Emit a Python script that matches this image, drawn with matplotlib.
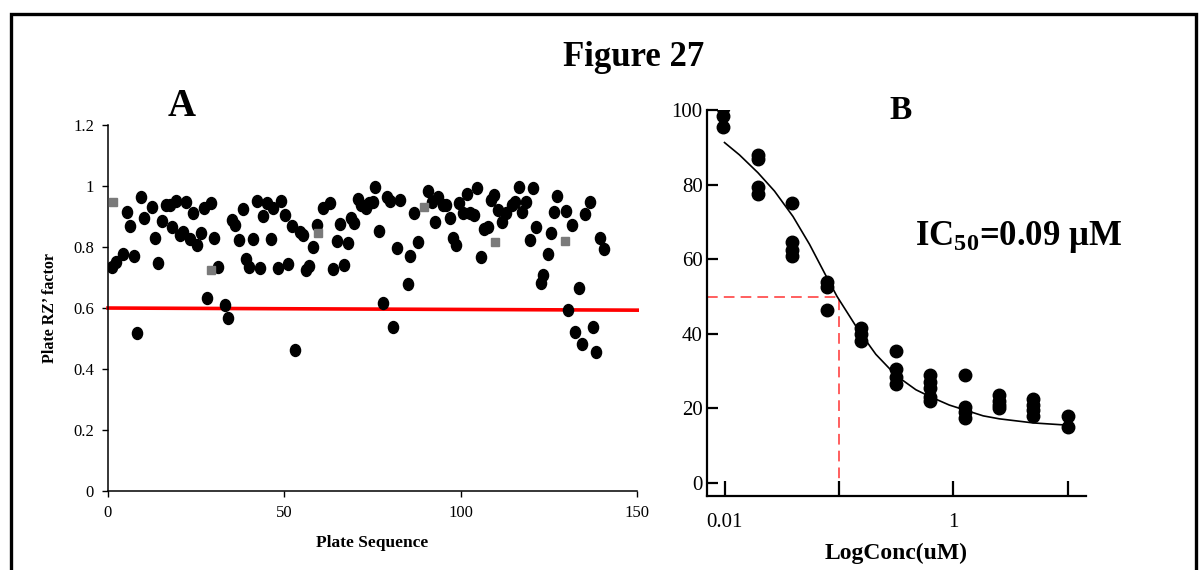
#!/usr/bin/env python3

import numpy as np
import matplotlib
matplotlib.use("Agg")
import matplotlib.pyplot as plt
from matplotlib.path import Path
from matplotlib.transforms import Affine2D
from matplotlib.patches import Rectangle

plt.rcParams['font.family'] = ['Liberation Serif', 'DejaVu Serif']
plt.rcParams['mathtext.default'] = 'regular'

# Panel A: plate RZ' factor per plate
seq = [1.2, 2.2, 4.3, 5.3, 6.2, 7.4, 8.1, 9.3, 10.2, 12.4, 13.2, 14.3, 15.4, 16.4, 17.6,
       18.2, 19.2, 20.4, 21.3, 22.0, 23.2, 24.2, 25.3, 26.3, 27.2, 28.2, 29.1, 30.0, 31.3,
       33.2, 34.1, 35.1, 36.0, 37.2, 38.2, 39.1, 40.1, 41.0, 42.2, 43.1, 44.0, 45.0, 46.1,
       46.9, 48.1, 49.0, 50.2, 51.1, 52.1, 53.0, 54.4, 55.2, 56.1, 57.1, 58.0, 59.1, 60.9,
       62.9, 63.9, 64.8, 65.8, 67.0, 68.0, 68.9, 69.8, 70.8, 71.7, 73.0, 73.9, 75.0, 75.8,
       76.9, 77.9, 79.0, 80.0, 80.9, 81.9, 82.9, 84.9, 85.7, 86.8, 87.8, 90.7, 91.9, 92.8,
       93.6, 94.9, 95.9, 96.8, 97.7, 98.7, 99.6, 100.6, 101.8, 102.7, 103.7, 104.6, 105.6,
       106.6, 107.8, 108.7, 109.3, 110.6, 111.7, 112.7, 114.5, 115.5, 116.6, 117.4, 118.5,
       119.5, 120.5, 121.4, 122.7, 123.3, 124.6, 125.5, 126.5, 127.4, 129.7, 130.4, 131.4,
       132.5, 133.5, 134.4, 135.3, 136.6, 137.5, 138.4, 139.4, 140.5]
rz = [0.735, 0.752, 0.777, 0.914, 0.869, 0.770, 0.519, 0.963, 0.894, 0.932, 0.828, 0.749,
      0.886, 0.938, 0.938, 0.867, 0.952, 0.839, 0.850, 0.947, 0.825, 0.910, 0.807, 0.847,
      0.927, 0.632, 0.943, 0.828, 0.733, 0.610, 0.566, 0.888, 0.872, 0.823, 0.924, 0.760,
      0.735, 0.825, 0.952, 0.732, 0.902, 0.943, 0.825, 0.927, 0.732, 0.952, 0.905, 0.744,
      0.869, 0.462, 0.850, 0.839, 0.725, 0.738, 0.801, 0.872, 0.927, 0.943, 0.727, 0.821,
      0.875, 0.741, 0.814, 0.894, 0.880, 0.956, 0.938, 0.927, 0.945, 0.949, 0.996, 0.854,
      0.617, 0.963, 0.952, 0.539, 0.798, 0.954, 0.679, 0.770, 0.912, 0.817, 0.985, 0.949,
      0.883, 0.965, 0.938, 0.938, 0.894, 0.828, 0.807, 0.943, 0.910, 0.974, 0.910, 0.905,
      0.993, 0.766, 0.858, 0.867, 0.954, 0.970, 0.921, 0.883, 0.910, 0.938, 0.949, 0.996,
      0.916, 0.949, 0.823, 0.993, 0.865, 0.681, 0.708, 0.777, 0.845, 0.916, 0.967, 0.919,
      0.593, 0.872, 0.522, 0.665, 0.482, 0.908, 0.949, 0.539, 0.457, 0.828, 0.793]
ctrl_seq = [1.5, 29.3, 59.6, 89.5, 109.6, 129.5]
ctrl_rz = [0.949, 0.725, 0.845, 0.932, 0.817, 0.821]
cutoff_x = [0, 150]
cutoff_y = [0.600, 0.593]

# Panel B: dose response
conc = [0.00977, 0.0195, 0.039, 0.078, 0.156, 0.3125, 0.625, 1.25, 2.5, 5.0, 10.0]
resp = [[100.5, 98.5, 95.5],
        [88, 87, 79.5, 77.5],
        [75, 64.5, 62.5, 61],
        [54, 52.5, 46.5],
        [41.5, 40, 38],
        [35.5, 30.5, 28.5, 26.5],
        [29, 27, 25.5, 23, 22],
        [29, 20.5, 19, 17.5],
        [23.5, 22, 21, 20],
        [22.5, 21, 19.5, 18],
        [18, 15]]
fit_x = [0.01, 0.0135, 0.0196, 0.0273, 0.0396, 0.0553, 0.0787, 0.0963, 0.141, 0.156, 0.21,
         0.316, 0.47, 0.62, 0.92, 1.25, 1.82, 2.52, 5.0, 10.0]
fit_y = [91.3, 88.0, 83.2, 78.3, 71.5, 64.0, 55.0, 50.0, 42.0, 40.0, 34.5,
         28.8, 25.0, 23.2, 20.9, 19.6, 18.0, 17.2, 16.1, 15.5]
ic50 = 0.1

fig = plt.figure(figsize=(12, 5.7), dpi=100)

# outer frame
fig.patches.append(Rectangle((11 / 1200, -0.05), 1185 / 1200, 1.05 - 14 / 570,
                             transform=fig.transFigure, fill=False, lw=2.4,
                             edgecolor='black', clip_on=False))

fig.text(0.528, 0.9, 'Figure 27', ha='center', va='center', fontsize=25, fontweight='bold')

# ---- panel A
axA = fig.add_axes([0.09, 0.1386, 0.441, 0.642])
ell = Path.unit_circle().transformed(Affine2D().scale(0.85, 1.0))
axA.plot(seq, rz, ls='none', marker=ell, ms=8.6, color='black', zorder=3)
axA.plot(ctrl_seq, ctrl_rz, ls='none', marker='s', ms=6.4, color='#7a7a7a', zorder=4)
axA.plot(cutoff_x, cutoff_y, color='#ff0000', lw=2.6, zorder=2, clip_on=False)
axA.set_xlim(0, 150)
axA.set_ylim(0, 1.2)
axA.set_xticks([0, 50, 100, 150])
axA.set_yticks(np.arange(0, 1.21, 0.2))
axA.set_yticklabels(['0', '0.2', '0.4', '0.6', '0.8', '1', '1.2'])
for s in ['top', 'right']:
    axA.spines[s].set_visible(False)
for s in ['left', 'bottom']:
    axA.spines[s].set_linewidth(1.1)
axA.tick_params(direction='out', length=4, width=1, labelsize=12, pad=6)
axA.set_xlabel('Plate Sequence', fontsize=12.5, fontweight='bold', labelpad=10)
axA.set_ylabel('Plate RZ’ factor', fontsize=11.5, fontweight='bold')
axA.yaxis.set_label_coords(-0.095, 0.5)
axA.text(0.14, 1.05, 'A', transform=axA.transAxes, ha='center', va='center',
         fontsize=28, fontweight='bold')

# ---- panel B
axB = fig.add_axes([0.589, 0.1298, 0.316, 0.677])
bx = [c for c, r in zip(conc, resp) for _ in r]
by = [v for r in resp for v in r]
axB.plot(bx, by, ls='none', marker='o', ms=9.0, color='black', zorder=3)
axB.plot(fit_x, fit_y, color='black', lw=1.2, zorder=2)
axB.set_xscale('log')
axB.set_xlim(0.0070, 14.4)
axB.set_ylim(-3.5, 100)
axB.plot([0.0070, ic50, ic50], [50, 50, -3.5], color='#ff3333', lw=1.1,
         dashes=(7, 4), zorder=1)
axB.xaxis.set_major_locator(matplotlib.ticker.FixedLocator([0.01, 0.1, 1, 10]))
axB.xaxis.set_minor_locator(matplotlib.ticker.NullLocator())
axB.set_xticklabels(['0.01', '', '1', ''])
axB.set_yticks([0, 20, 40, 60, 80, 100])
for s in ['top', 'right']:
    axB.spines[s].set_visible(False)
for s in ['left', 'bottom']:
    axB.spines[s].set_linewidth(1.6)
axB.tick_params(axis='x', direction='in', length=11, width=1.6, labelsize=15, pad=12)
axB.tick_params(axis='y', direction='in', length=8, width=1.6, labelsize=15, pad=3)
axB.set_xlabel('LogConc(uM)', fontsize=17, fontweight='bold', labelpad=8)
axB.text(0.51, 1.0, 'B', transform=axB.transAxes, ha='center', va='center',
         fontsize=24, fontweight='bold')
axB.text(0.55, 0.67, 'IC$_{50}$=0.09 μM', transform=axB.transAxes, ha='left',
         va='center', fontsize=25, fontweight='bold')

fig.savefig('out.png', dpi=100)
